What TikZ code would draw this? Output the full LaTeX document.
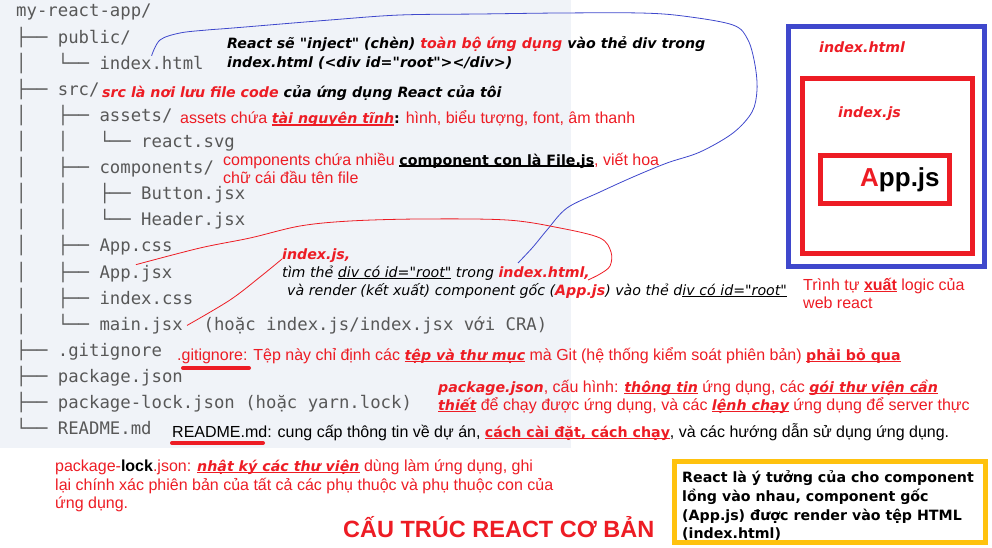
\documentclass[tikz,border=0pt]{standalone}
\usepackage{fontspec}
\usepackage{tikz}
\usetikzlibrary{positioning}

\newfontfamily\codefont{DejaVu Sans Mono}
\newfontfamily\notefont{Liberation Sans}
\newfontfamily\verdfont[ItalicFont={DejaVu Sans Oblique},BoldFont={DejaVu Sans Bold},BoldItalicFont={DejaVu Sans Bold Oblique}]{DejaVu Sans}

\definecolor{codebg}{RGB}{240,243,248}
\definecolor{codegray}{RGB}{88,88,88}
\definecolor{reactred}{RGB}{237,28,36}
\definecolor{paintblue}{RGB}{63,72,204}
\definecolor{boxyellow}{RGB}{255,194,14}

\newcommand{\undr}[1]{\setbox0=\hbox{#1}\rlap{\rule[-2pt]{\wd0}{1.5pt}}\box0\relax}
\newcommand{\vbi}[1]{{\verdfont\bfseries\itshape\fontsize{14.2pt}{17pt}\selectfont #1}}
\newcommand{\vb}[1]{{\verdfont\bfseries\fontsize{14.2pt}{17pt}\selectfont #1}}
\newcommand{\red}[1]{\textcolor{reactred}{#1}}

\begin{document}
\begin{tikzpicture}[x=1pt, y=-1pt,
    code/.style = {anchor=base west, inner sep=0pt, text=codegray, font=\codefont\fontsize{17.3pt}{20pt}\selectfont},
    note/.style = {anchor=base west, inner sep=0pt, text=reactred, font=\notefont\fontsize{16pt}{19pt}\selectfont},
    bnote/.style = {anchor=base west, inner sep=0pt, text=black, font=\verdfont\bfseries\itshape\fontsize{14.2pt}{17pt}\selectfont},
    inote/.style = {anchor=base west, inner sep=0pt, text=black, font=\verdfont\itshape\fontsize{14.2pt}{17pt}\selectfont},
    ynote/.style = {anchor=base west, inner sep=0pt, text=black, font=\verdfont\bfseries\fontsize{14.2pt}{17pt}\selectfont},
    frame/.style = {draw, line width=5pt, inner sep=0pt},
    hilite/.style = {reactred, line width=4pt, line cap=round},
    link/.style = {line width=0.8pt}]
    \useasboundingbox (0,0) rectangle (992,548);
    \fill[codebg] (0,0) rectangle (571,448);

    % project tree
    \node[code] (root) at (16,17) {my-react-app/};
    \node[code] (public) at (16,43.1) {├──~public/};
    \node[code] (idxpre) at (16,69.2) {│~~~└──~};
    \node[code] (idxhtml) at (99.3,69.2) {index.html};
    \node[code] (src) at (16,95.3) {├──~src/};
    \node[code] (assets) at (16,121.4) {│~~~├──~assets/};
    \node[code] (svg) at (16,147.5) {│~~~│~~~└──~react.svg};
    \node[code] (comps) at (16,173.6) {│~~~├──~components/};
    \node[code] (button) at (16,199.7) {│~~~│~~~├──~Button.jsx};
    \node[code] (header) at (16,225.8) {│~~~│~~~└──~Header.jsx};
    \node[code] (appcss) at (16,251.9) {│~~~├──~App.css};
    \node[code] (appjsxpre) at (16,278) {│~~~├──~};
    \node[code] (appjsx) at (99.3,278) {App.jsx};
    \node[code] (idxcss) at (16,304.1) {│~~~├──~index.css};
    \node[code] (mainpre) at (16,330.2) {│~~~└──~};
    \node[code] (mainjsx) at (99.3,330.2) {main.jsx};
    \node[code] (cra) at (203.4,330.2) {(hoặc index.js/index.jsx với CRA)};
    \node[code] (git) at (16,356.3) {├──~.gitignore};
    \node[code] (pkg) at (16,382.4) {├──~package.json};
    \node[code] (lock) at (16,408.5) {├──~package-lock.json~(hoặc yarn.lock)};
    \node[code] (readmefile) at (16,434.6) {└──~README.md};

    % notes
    \node[bnote] (inj1) at (227,49) {React sẽ "inject" (chèn) \red{toàn bộ ứng dụng} vào thẻ div trong};
    \node[bnote] (inj2) at (227,68) {index.html (<div id="root"></div>)};
    \node[bnote] (srcnote) at (102,98) {\red{src là nơi lưu file code} của ứng dụng React của tôi};
    \node[note] (assetsnote) at (180,124) {assets chứa \undr{\vbi{tài nguyên tĩnh}}\vb{\color{black}:} hình, biểu tượng, font, âm thanh};
    \node[note] (comp1) at (223,165) {components chứa nhiều {\color{black}\undr{\vb{component con là File.js}}}, viết hoa};
    \node[note] (comp2) at (223,183) {chữ cái đầu tên file};
    \node[inote] (idxjs1) at (282,259) {\red{\bfseries index.js,}};
    \node[inote] (idxjs2) at (282,277) {tìm thẻ \undr{div có id="root"} trong \red{\bfseries index.html,}};
    \node[inote] (idxjs3) at (287,295) {và render (kết xuất) component gốc (\red{\bfseries App.js}) vào thẻ d\undr{iv có id="root"}};
    \node[note] (gitnote) at (177,360) {.gitignore: Tệp này chỉ định các \undr{\vbi{tệp và thư mục}} mà Git (hệ thống kiểm soát phiên bản) \undr{\vb{phải bỏ qua}}};
    \node[note] (pkg1) at (438,392) {\vbi{package.json}, cấu hình: \undr{\vbi{thông tin}} ứng dụng, các \undr{\vbi{gói thư viện cần}}};
    \node[note] (pkg2) at (438,410) {\undr{\vbi{thiết}} để chạy được ứng dụng, và các \undr{\vbi{lệnh chạy}} ứng dụng để server thực};
    \node[note, text=black] (readme) at (172,437) {README.md: cung cấp thông tin về dự án, \red{\undr{\vb{cách cài đặt, cách chạy}}}, và các hướng dẫn sử dụng ứng dụng.};
    \node[note] (lock1) at (55,471) {package-{\color{black}\bfseries lock}.json: \undr{\vbi{nhật ký các thư viện}} dùng làm ứng dụng, ghi};
    \node[note] (lock2) at (55,490) {lại chính xác phiên bản của tất cả các phụ thuộc và phụ thuộc con của};
    \node[note] (lock3) at (55,508) {ứng dụng.};
    \node[anchor=base west, inner sep=0pt, text=reactred, font=\notefont\bfseries\fontsize{23.5pt}{28pt}\selectfont] (title) at (343,537) {CẤU TRÚC REACT CƠ BẢN};

    % nested boxes
    \node[frame, draw=paintblue, minimum width=196pt, minimum height=240pt] (htmlbox) at (886.5,146.5) {};
    \node[frame, draw=reactred, minimum width=170pt, minimum height=175pt] (jsbox) at (887.5,166) {};
    \node[frame, draw=reactred, minimum width=129pt, minimum height=48pt] (appbox) at (885,179.5) {};
    \node[bnote, text=reactred] (htmllbl) at (819,53) {index.html};
    \node[bnote, text=reactred] (jslbl) at (838,118) {index.js};
    \node[anchor=base west, inner sep=0pt, font=\notefont\bfseries\fontsize{26pt}{30pt}\selectfont] (applbl) at (860,186) {\red{A}pp.js};
    \node[note] (order1) at (803,290) {Trình tự \undr{\bfseries xuất} logic của};
    \node[note] (order2) at (803,308) {web react};

    % idea box
    \node[frame, draw=boxyellow, minimum width=311pt, minimum height=81pt] (ideabox) at (830,502) {};
    \node[ynote] (idea1) at (682,482) {React là ý tưởng của cho component};
    \node[ynote] (idea2) at (682,501) {lồng vào nhau, component gốc};
    \node[ynote] (idea3) at (682,520) {(App.js) được render vào tệp HTML};
    \node[ynote] (idea4) at (682,538) {(index.html)};

    % marks
    \draw[hilite] ([xshift=6pt,yshift=-8pt]gitnote.base west) -- ++(66,0);
    \draw[hilite] ([yshift=-6pt]readme.base west) -- ++(91,0);

    % links
    \coordinate (htmltip) at (518,263);
    \coordinate (apptip) at (588,280);
    \draw[link, paintblue] plot[smooth, tension=0.55] coordinates {(idxhtml.north) (160,40) (180,33) (207,30) (233,28) (330,20) (400,15) (480,14) (560,13) (640,13) (683,16) (733,25) (748,40) (755,65) (757,90) (752,112) (733,133) (700,152) (667,163) (633,177) (600,192) (567,208) (547,230) (533,247) (htmltip)};
    \draw[link, reactred] plot[smooth, tension=0.55] coordinates {(appjsx.north) (200,248) (250,238) (300,226) (350,221) (420,219) (507,220) (560,228) (600,238) (611,252) (610,266) (600,274) (apptip)};
    \draw[link, reactred] plot[smooth, tension=0.55] coordinates {([xshift=4pt]mainjsx.east) (230,300) (260,277) (idxjs1.base west)};
\end{tikzpicture}
\end{document}
